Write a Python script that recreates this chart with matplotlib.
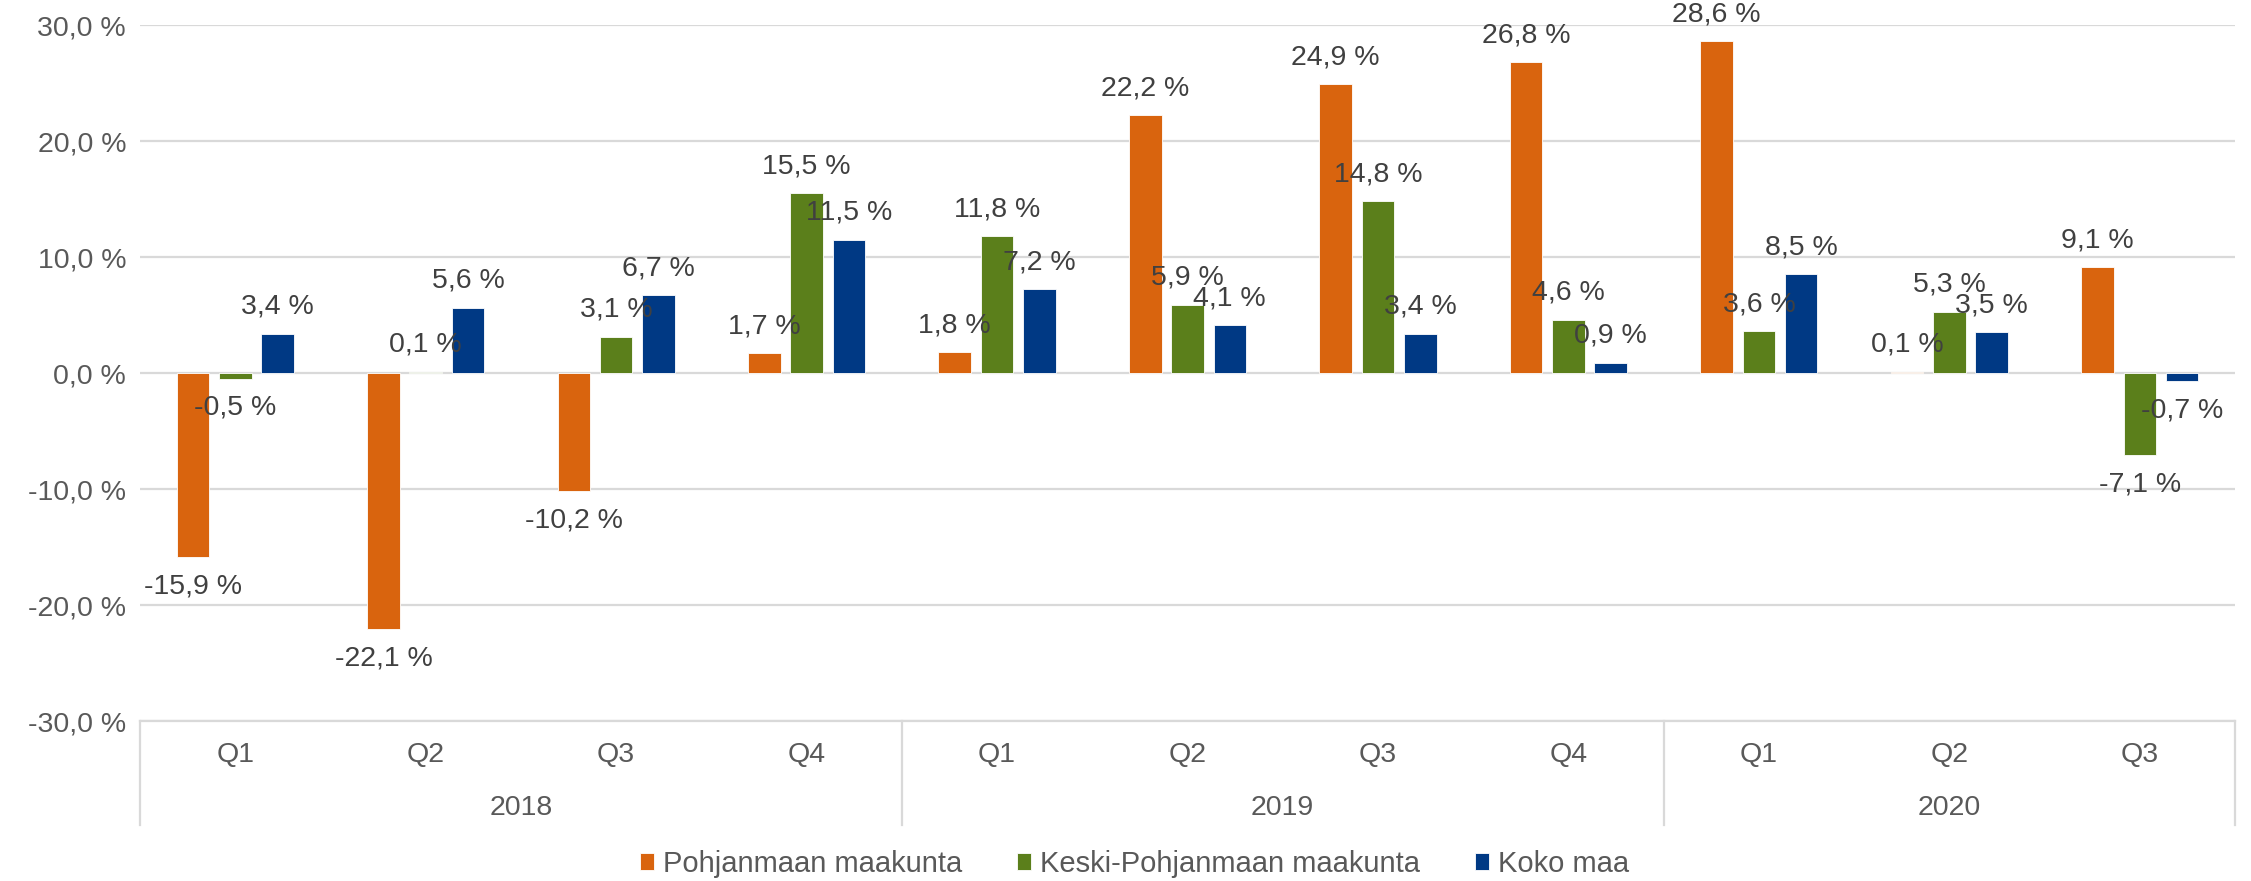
import matplotlib.pyplot as plt
import matplotlib.transforms as mtransforms
import numpy as np

plt.rcParams['font.family'] = ['Liberation Sans', 'DejaVu Sans']

# data
quarters = ['Q1', 'Q2', 'Q3', 'Q4', 'Q1', 'Q2', 'Q3', 'Q4', 'Q1', 'Q2', 'Q3']
years = ['2018', '2019', '2020']
year_sizes = [4, 4, 3]
series_names = ['Pohjanmaan maakunta', 'Keski-Pohjanmaan maakunta', 'Koko maa']
pohjanmaa = [-15.9, -22.1, -10.2, 1.7, 1.8, 22.2, 24.9, 26.8, 28.6, 0.1, 9.1]
keski_pohjanmaa = [-0.5, 0.1, 3.1, 15.5, 11.8, 5.9, 14.8, 4.6, 3.6, 5.3, -7.1]
koko_maa = [3.4, 5.6, 6.7, 11.5, 7.2, 4.1, 3.4, 0.9, 8.5, 3.5, -0.7]
colors = ['#D9640E', '#5B7F1B', '#003984']

fig = plt.figure(figsize=(22.51, 8.81), dpi=100)
ax = fig.add_axes([0.0622, 0.1816, 0.9307, 0.79])

x = np.arange(len(quarters))
width = 0.171
step = 0.222
for i, (vals, name, col) in enumerate(zip([pohjanmaa, keski_pohjanmaa, koko_maa], series_names, colors)):
    pos = x + (i - 1) * step
    ax.bar(pos, vals, width=width, color=col, label=name, edgecolor='white', linewidth=0.6, zorder=3)
    for px, v in zip(pos, vals):
        off = 19.5 if v >= 0 else -21
        ax.annotate(f'{v:.1f} %'.replace('.', ','), (px, v), xytext=(0, off),
                    textcoords='offset points', ha='center', va='center',
                    fontsize=20.5, color='#404040', zorder=4)

ax.set_xlim(-0.5, len(quarters) - 0.5)
ax.set_ylim(-30, 30)
ax.set_yticks(np.arange(-30, 31, 10))
ax.set_yticklabels([f'{t:.1f} %'.replace('.', ',') for t in np.arange(-30, 31, 10)])
ax.yaxis.grid(True, color='#D9D9D9', linewidth=1.6, zorder=0)
ax.set_axisbelow(True)
for s in ['top', 'right', 'left']:
    ax.spines[s].set_visible(False)
ax.spines['bottom'].set_color('#D9D9D9')
ax.spines['bottom'].set_linewidth(1.6)

ax.set_xticks(x)
ax.set_xticklabels(quarters)
ax.tick_params(axis='x', length=0, pad=15, labelsize=20.5, labelcolor='#595959')
ax.tick_params(axis='y', length=0, pad=10, labelsize=20.5, labelcolor='#595959')

# group separators and year labels
trans = mtransforms.blended_transform_factory(ax.transData, ax.transAxes)
edges = np.concatenate([[0], np.cumsum(year_sizes)]) - 0.5
for e in edges:
    ax.plot([e, e], [0, -0.149], transform=trans, color='#D9D9D9', linewidth=1.6, clip_on=False)
for k, yr in enumerate(years):
    c = (edges[k] + edges[k + 1]) / 2
    ax.text(c, -0.125, yr, transform=trans, ha='center', va='center', fontsize=20.5, color='#595959')

fig.legend(loc='center', bbox_to_anchor=(0.504, 0.0195), ncol=3, frameon=False, fontsize=21,
           handlelength=0.48, handleheight=0.48, handletextpad=0.3, columnspacing=1.9,
           labelcolor='#595959', borderpad=0)

fig.savefig('out.png', dpi=100)
